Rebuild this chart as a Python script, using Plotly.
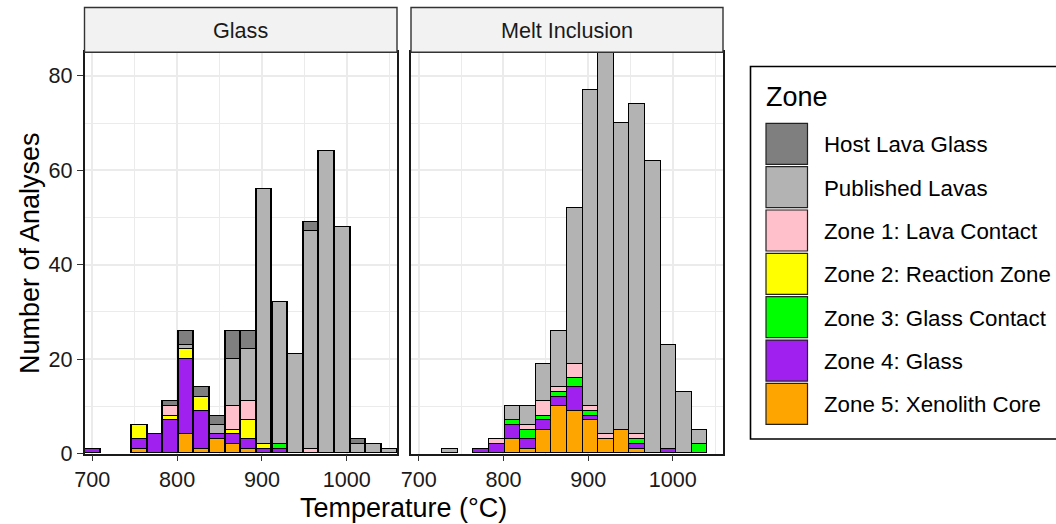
import plotly.graph_objects as go

W, H = 1056, 524

# ---------------- data ----------------
bin_centers = [700.0, 718.4, 736.8, 755.3, 773.7, 792.1, 810.5, 828.9, 847.4, 865.8,
               884.2, 902.6, 921.1, 939.5, 957.9, 976.3, 994.7, 1013.2, 1031.6, 1050.0]
bin_width = 18.42

zone_names = ["Host Lava Glass", "Published Lavas", "Zone 1: Lava Contact",
              "Zone 2: Reaction Zone", "Zone 3: Glass Contact", "Zone 4: Glass",
              "Zone 5: Xenolith Core"]
zone_colors = ["#7F7F7F", "#B3B3B3", "#FFC0CB", "#FFFF00", "#00FF00", "#A020F0", "#FFA500"]

glass_host      = [0, 0, 0, 0, 0, 1, 3, 2, 2, 6, 4, 0, 0, 0, 2, 0, 0, 1, 0, 0]
glass_published = [0, 0, 0, 0, 0, 0, 1, 0, 2, 10, 11, 54, 30, 21, 46, 64, 48, 2, 2, 1]
glass_zone1     = [0, 0, 0, 0, 0, 2, 0, 0, 0, 5, 4, 0, 0, 0, 1, 0, 0, 0, 0, 0]
glass_zone2     = [0, 0, 0, 3, 0, 1, 2, 3, 0, 1, 4, 1, 0, 0, 0, 0, 0, 0, 0, 0]
glass_zone3     = [0, 0, 0, 0, 0, 0, 0, 0, 0, 0, 0, 0, 1, 0, 0, 0, 0, 0, 0, 0]
glass_zone4     = [1, 0, 0, 2, 4, 7, 16, 8, 1, 2, 2, 1, 1, 0, 0, 0, 0, 0, 0, 0]
glass_zone5     = [0, 0, 0, 1, 0, 0, 4, 1, 3, 2, 1, 0, 0, 0, 0, 0, 0, 0, 0, 0]

mi_host      = [0, 0, 0, 0, 0, 0, 0, 0, 0, 0, 0, 0, 0, 0, 0, 0, 0, 0, 0, 0]
mi_published = [0, 0, 1, 0, 0, 0, 3, 4, 8, 12, 33, 67, 81, 65, 70, 62, 22, 13, 3, 0]
mi_zone1     = [0, 0, 0, 0, 0, 1, 0, 1, 3, 1, 3, 1, 1, 0, 1, 0, 0, 0, 0, 0]
mi_zone2     = [0, 0, 0, 0, 0, 0, 0, 0, 0, 0, 0, 0, 0, 0, 0, 0, 0, 0, 0, 0]
mi_zone3     = [0, 0, 0, 0, 0, 0, 1, 2, 1, 1, 2, 1, 0, 0, 1, 0, 0, 0, 2, 0]
mi_zone4     = [0, 0, 0, 0, 1, 2, 3, 2, 2, 2, 5, 1, 0, 0, 1, 0, 1, 0, 0, 0]
mi_zone5     = [0, 0, 0, 0, 0, 0, 3, 1, 5, 10, 9, 7, 3, 5, 1, 0, 0, 0, 0, 0]

facet_names = ["Glass", "Melt Inclusion"]
glass_series = [glass_host, glass_published, glass_zone1, glass_zone2, glass_zone3, glass_zone4, glass_zone5]
mi_series = [mi_host, mi_published, mi_zone1, mi_zone2, mi_zone3, mi_zone4, mi_zone5]

x_ticks = [700, 800, 900, 1000]
y_ticks = [0, 20, 40, 60, 80]

# ---------------- layout helpers ----------------
FONT = "Liberation Sans, Arial, Helvetica, sans-serif"
def px(x):
    return x / W
def py(y):
    return 1 - y / H

panel_x = [(84.5, 397.0), (411.0, 723.0)]
panel_top, panel_bottom = 52.3, 453.6

fig = go.Figure()

# stack: bottom first (Zone 5) ... top last (Host Lava Glass)
for facet_idx, series in enumerate([glass_series, mi_series]):
    xa = "x" if facet_idx == 0 else "x2"
    ya = "y" if facet_idx == 0 else "y2"
    for zi in reversed(range(len(zone_names))):
        vals = [v if v > 0 else None for v in series[zi]]
        fig.add_trace(go.Bar(
            x=bin_centers, y=vals, width=bin_width,
            marker=dict(color=zone_colors[zi], line=dict(color="#000000", width=1.4)),
            name=zone_names[zi], showlegend=False, xaxis=xa, yaxis=ya,
        ))

grid_c = "#EBEBEB"
axis_common = dict(
    showline=True, mirror=True, linecolor="#1A1A1A", linewidth=1.5,
    showgrid=True, gridcolor=grid_c, gridwidth=1.8, zeroline=False,
    ticks="outside", ticklen=6, tickwidth=1.3, tickcolor="#333333",
    tickfont=dict(family=FONT, size=21.6, color="#1A1A1A"),
    automargin=False,
)
xrange = [bin_centers[0] - bin_width / 2, bin_centers[-1] + bin_width / 2]
for i, key in enumerate(["xaxis", "xaxis2"]):
    fig.layout[key] = dict(
        axis_common,
        domain=[px(panel_x[i][0]), px(panel_x[i][1])],
        range=xrange, tickvals=x_ticks, ticktext=[str(v) for v in x_ticks],
        minor=dict(dtick=50, tick0=0, showgrid=True, gridcolor=grid_c, gridwidth=1, ticks=""),
        anchor="y" if i == 0 else "y2",
    )
fig.layout["yaxis"] = dict(
    axis_common, domain=[py(panel_bottom), py(panel_top)], range=[0, 85],
    tickvals=y_ticks, ticktext=[str(v) for v in y_ticks],
    minor=dict(dtick=10, tick0=0, showgrid=True, gridcolor=grid_c, gridwidth=1, ticks=""),
    anchor="x",
)
fig.layout["yaxis2"] = dict(
    axis_common, domain=[py(panel_bottom), py(panel_top)], range=[0, 85],
    tickvals=y_ticks, showticklabels=False, ticks="",
    minor=dict(dtick=10, tick0=0, showgrid=True, gridcolor=grid_c, gridwidth=1, ticks=""),
    anchor="x2", matches="y",
)

shapes = []
annotations = []

# facet strips
for i, name in enumerate(facet_names):
    x0, x1 = panel_x[i]
    shapes.append(dict(type="rect", xref="paper", yref="paper",
                       x0=px(x0), x1=px(x1), y0=py(panel_top), y1=py(7.5),
                       fillcolor="#F2F2F2", line=dict(color="#333333", width=1.4), layer="above"))
    annotations.append(dict(xref="paper", yref="paper", x=px((x0 + x1) / 2), y=py(30),
                            text=name, showarrow=False, xanchor="center", yanchor="middle",
                            font=dict(family=FONT, size=21.6, color="#1A1A1A")))

# axis titles
annotations.append(dict(xref="paper", yref="paper", x=px(403.5), y=py(508),
                        text="Temperature (°C)", showarrow=False, xanchor="center", yanchor="middle",
                        font=dict(family=FONT, size=27, color="#000000")))
annotations.append(dict(xref="paper", yref="paper", x=px(30), y=py(253),
                        text="Number of Analyses", showarrow=False, textangle=-90,
                        xanchor="center", yanchor="middle",
                        font=dict(family=FONT, size=27, color="#000000")))

# legend (drawn manually to mimic large ggplot keys)
shapes.append(dict(type="rect", xref="paper", yref="paper",
                   x0=px(750.5), x1=px(1062), y0=py(439), y1=py(66.5),
                   fillcolor="white", line=dict(color="#000000", width=1.6), layer="above"))
annotations.append(dict(xref="paper", yref="paper", x=px(764), y=py(97),
                        text="Zone", showarrow=False, xanchor="left", yanchor="middle",
                        font=dict(family=FONT, size=27, color="#000000")))
key_top0, key_pitch, key_h = 123.3, 43.35, 41.0
for zi, name in enumerate(zone_names):
    t = key_top0 + zi * key_pitch
    shapes.append(dict(type="rect", xref="paper", yref="paper",
                       x0=px(766), x1=px(807.5), y0=py(t + key_h), y1=py(t),
                       fillcolor=zone_colors[zi], line=dict(color="#222222", width=1.2), layer="above"))
    annotations.append(dict(xref="paper", yref="paper", x=px(822), y=py(t + key_h / 2 + 1),
                            text=name, showarrow=False, xanchor="left", yanchor="middle",
                            font=dict(family=FONT, size=22.3, color="#000000")))

fig.update_layout(
    width=W, height=H, margin=dict(l=0, r=0, t=0, b=0),
    barmode="stack", bargap=0,
    paper_bgcolor="white", plot_bgcolor="white",
    shapes=shapes, annotations=annotations, showlegend=False,
    font=dict(family=FONT),
)

fig.write_html("out.html")
